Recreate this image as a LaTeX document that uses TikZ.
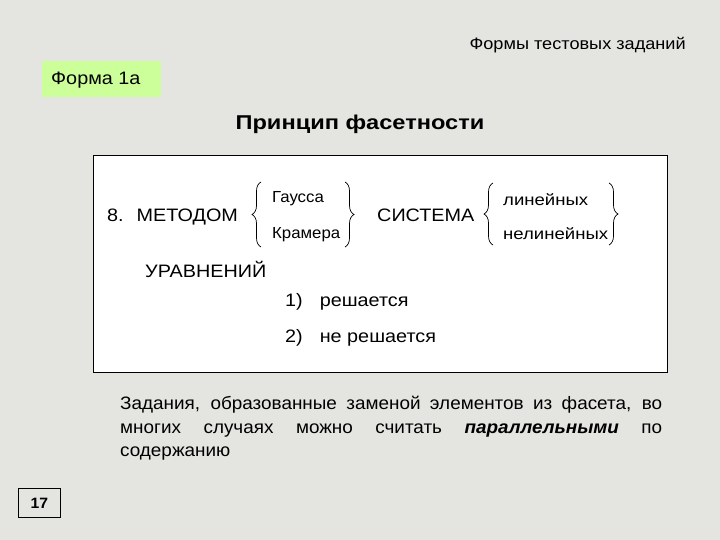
\documentclass[tikz,border=0pt]{standalone}
\usepackage{fontspec}
\setmainfont{Liberation Sans}
\newfontfamily\wideA[FakeStretch=1.05]{Liberation Sans}
\newfontfamily\wideB[FakeStretch=1.1]{Liberation Sans}
\newfontfamily\wideC[FakeStretch=1.16]{Liberation Sans}
\newfontfamily\wideD[FakeStretch=1.18]{Liberation Sans}
\usetikzlibrary{decorations.pathreplacing}
\definecolor{bg}{RGB}{228,228,225}
\definecolor{formgreen}{RGB}{204,255,153}
\tikzset{
  txt/.style={inner sep=0pt, anchor=base west},
  bracestyle/.style={decorate, decoration={brace, amplitude=9pt, aspect=0.5}, line width=0.7pt},
}
\begin{document}
\begin{tikzpicture}[x=1pt,y=-1pt]
\useasboundingbox (0,0) rectangle (720,540);
\fill[bg] (0,0) rectangle (720,540);
% header
\node[inner sep=0pt, anchor=base east] (hdr) at (686,50) {\wideB\fontsize{16.5}{19}\selectfont Формы тестовых заданий};
% form label
\node[fill=formgreen, minimum width=119pt, minimum height=36pt, anchor=north west, inner sep=0pt] (form) at (42,61) {};
\node[txt] (formtxt) at (51,85) {\wideB\fontsize{18}{21}\selectfont Форма 1а};
% title
\node[inner sep=0pt, anchor=base] (title) at (360,130) {\wideD\fontsize{20}{24}\selectfont\bfseries Принцип фасетности};
% main box
\node[draw=black, line width=1.2pt, fill=white, minimum width=574pt, minimum height=217pt, anchor=north west, inner sep=0pt] (box) at (93,155) {};
\node[txt] (metod) at (107,221.5) {\wideB\fontsize{18}{21}\selectfont 8.\hspace{13pt}МЕТОДОМ};
\node[txt] (gauss) at (272,203) {\wideA\fontsize{16}{19}\selectfont Гаусса};
\node[txt] (kramer) at (272,238) {\wideA\fontsize{16}{19}\selectfont Крамера};
\node[txt] (sistema) at (377,222) {\wideB\fontsize{18}{21}\selectfont СИСТЕМА};
\node[txt] (lin) at (503,206) {\wideC\fontsize{16}{19}\selectfont линейных};
\node[txt] (nelin) at (503,240) {\wideC\fontsize{16}{19}\selectfont нелинейных};
\node[txt] (urav) at (145,277) {\wideB\fontsize{18}{21}\selectfont УРАВНЕНИЙ};
\node[txt] (r1) at (285,306) {\wideB\fontsize{18}{21}\selectfont 1)\hspace{17pt}решается};
\node[txt] (r2) at (285,342) {\wideB\fontsize{18}{21}\selectfont 2)\hspace{17pt}не решается};
% braces
\coordinate (b1b) at (261,247); \coordinate (b1t) at (261,182);
\coordinate (b2t) at (345,182); \coordinate (b2b) at (345,247);
\coordinate (b3b) at (493,245); \coordinate (b3t) at (493,183);
\coordinate (b4t) at (609,183); \coordinate (b4b) at (609,245);
\draw[bracestyle] (b1b) -- (b1t);
\draw[bracestyle] (b2t) -- (b2b);
\draw[bracestyle] (b3b) -- (b3t);
\draw[bracestyle] (b4t) -- (b4b);
% paragraph
\node[anchor=north west, inner sep=0pt, text width=542pt, align=justify, font=\wideA\fontsize{18}{23.5}\selectfont] (para) at (120,396) {Задания, образованные заменой элементов из фасета, во\linebreak многих случаях можно считать \textbf{\textit{параллельными}} по\linebreak содержанию};
% page number
\node[draw=black, line width=0.8pt, minimum width=42pt, minimum height=29pt, anchor=north west, inner sep=0pt, font=\wideA\fontsize{15}{18}\selectfont\bfseries] (pg) at (18,488) {17};
\end{tikzpicture}
\end{document}
